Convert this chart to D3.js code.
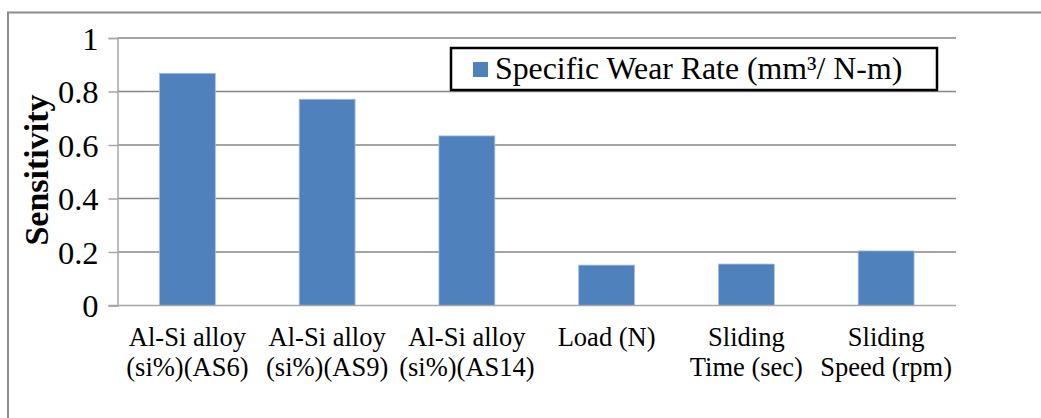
<!DOCTYPE html>
<html><head><meta charset="utf-8">
<script src="https://cdn.jsdelivr.net/npm/d3@7"></script>
<style>body{margin:0;background:#fff}svg{display:block}svg text{font-family:"Liberation Serif","Times New Roman",serif}</style>
</head><body>
<script>
const categories = [
  ["Al-Si alloy","(si%)(AS6)"],
  ["Al-Si alloy","(si%)(AS9)"],
  ["Al-Si alloy","(si%)(AS14)"],
  ["Load (N)"],
  ["Sliding","Time (sec)"],
  ["Sliding","Speed (rpm)"]
];
const values = [0.868, 0.771, 0.634, 0.151, 0.155, 0.204];
const yTicks = [0, 0.2, 0.4, 0.6, 0.8, 1];
const yTickLabels = ["0","0.2","0.4","0.6","0.8","1"];
const seriesName = "Specific Wear Rate (mm³/ N-m)";
const yTitle = "Sensitivity";

const W = 1041, H = 418;
const m = {l:117.5, r:1041-956, t:38, b:418-305.5};
const svg = d3.select("body").append("svg").attr("width",W).attr("height",H);

svg.append("path").attr("d",`M8,${H+5}V12.5H${W+5}`).attr("fill","none").attr("stroke","#8c8c8c").attr("stroke-width",2);

const x = d3.scaleBand().domain(d3.range(categories.length)).range([m.l, W-m.r]);
const y = d3.scaleLinear().domain([0,1]).range([H-m.b, m.t]);

// gridlines
svg.append("g").selectAll("line").data(yTicks.filter(d=>d>0)).join("line")
  .attr("x1",m.l).attr("x2",W-m.r).attr("y1",d=>y(d)).attr("y2",d=>y(d))
  .attr("stroke","#868686").attr("stroke-width",1.5);

// y axis
const ya = svg.append("g").attr("transform",`translate(${m.l},0)`)
  .call(d3.axisLeft(y).tickValues(yTicks).tickFormat((d,i)=>yTickLabels[i]).tickSize(9).tickPadding(10));
ya.attr("font-family",null);
ya.select(".domain").attr("stroke","#a6a6a6").attr("stroke-width",1.5);
ya.selectAll(".tick line").attr("stroke","#a6a6a6").attr("stroke-width",1.5);
ya.selectAll("text").style("font-size","32.5px").attr("fill","#000").attr("dy","0.34em");

// bars
const bw = x.bandwidth()*0.4;
svg.append("g").selectAll("rect").data(values).join("rect")
  .attr("x",(d,i)=>x(i)+x.bandwidth()/2-bw/2).attr("width",bw)
  .attr("y",d=>y(d)).attr("height",d=>y(0)-y(d))
  .attr("fill","#4f81bd").attr("stroke","#a7c0de").attr("stroke-width",0.8);

// x axis line
svg.append("line").attr("x1",m.l-9).attr("x2",W-m.r).attr("y1",y(0)).attr("y2",y(0))
  .attr("stroke","#a6a6a6").attr("stroke-width",1.5);

// x labels
const xl = svg.append("g").selectAll("text").data(categories).join("text")
  .style("font-size","26.5px").attr("text-anchor","middle")
  .attr("x",(d,i)=>x(i)+x.bandwidth()/2).attr("y",346);
xl.selectAll("tspan").data(d=>d).join("tspan")
  .attr("x",function(){return this.parentNode.getAttribute("x");})
  .attr("dy",(d,i)=>i===0?0:30).text(d=>d);

// y title
svg.append("text").attr("transform",`translate(48,170) rotate(-90)`)
  .attr("text-anchor","middle").attr("font-weight","bold")
  .style("font-size","34px").text(yTitle);

// legend
const lg = svg.append("g");
lg.append("rect").attr("x",451).attr("y",48).attr("width",486).attr("height",42)
  .attr("fill","#fff").attr("stroke","#000").attr("stroke-width",2.5);
lg.append("rect").attr("x",473).attr("y",62).attr("width",15).attr("height",15).attr("fill","#4f81bd");
lg.append("text").attr("x",495).attr("y",79).style("font-size","31.8px").text(seriesName);
</script>
</body></html>
